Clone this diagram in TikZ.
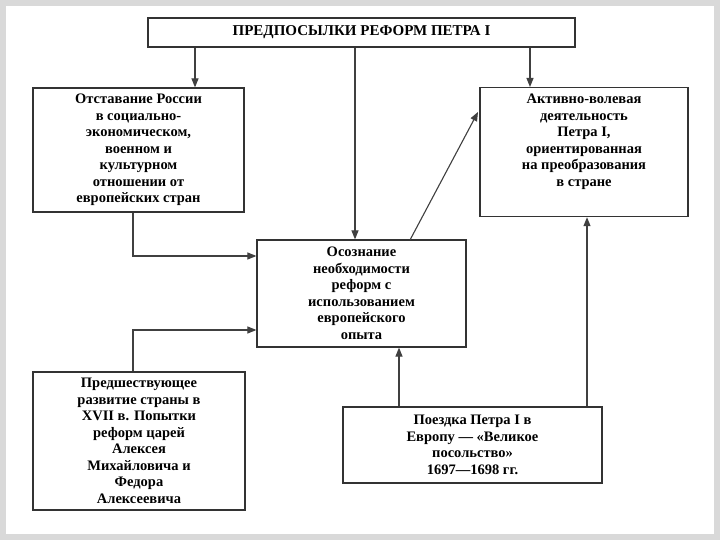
\documentclass[tikz,border=0pt]{standalone}
\usepackage{fontspec}
\setmainfont{Liberation Serif}
\usetikzlibrary{arrows.meta}
\begin{document}
\begin{tikzpicture}[x=1pt,y=-1pt,
 box/.style={draw=black!80,line width=1.2pt,inner sep=0pt,font=\bfseries\fontsize{14.5}{16.5}\selectfont,align=center},
 txt/.style={inner sep=0pt,font=\bfseries\fontsize{14.5}{16.5}\selectfont,align=center},
 arr/.style={draw=black!75,line width=1.1pt,-{Triangle[length=9pt,width=7pt]}}]
\useasboundingbox (0,0) rectangle (720,540);
\fill[white] (0,0) rectangle (720,540);
\draw[black!15,line width=6pt] (3,3) rectangle (717,537);
\node[box,minimum width=427pt,minimum height=29pt,font=\bfseries\fontsize{15}{17}\selectfont] (t) at (361.5,32.5) {ПРЕДПОСЫЛКИ РЕФОРМ ПЕТРА I};
\node[box,minimum width=211pt,minimum height=124pt] (a) at (138.5,150) {Отставание России\\в социально-\\экономическом,\\военном и\\культурном\\отношении от\\европейских стран};
\node[box,minimum width=208pt,minimum height=129pt,anchor=north] (b) at (584,87) {};
\node[txt,anchor=north] (bt) at ([yshift=-7pt]b.north) {Активно-волевая\\деятельность\\Петра I,\\ориентированная\\на преобразования\\в стране};
\node[box,minimum width=209pt,minimum height=107pt] (c) at (361.5,293.5) {Осознание\\необходимости\\реформ с\\использованием\\европейского\\опыта};
\node[box,minimum width=212pt,minimum height=138pt] (d) at (139,441) {Предшествующее\\развитие страны в\\XVII в. Попытки\\реформ царей\\Алексея\\Михайловича и\\Федора\\Алексеевича};
\node[box,minimum width=259pt,minimum height=76pt] (e) at (472.5,445) {Поездка Петра I в\\Европу — «Великое\\посольство»\\1697—1698 гг.};
\draw[arr] (t.south -| 195,0) -- (a.north -| 195,0);
\draw[arr] (t.south -| 355,0) -- (c.north -| 355,0);
\draw[arr] (t.south -| 530,0) -- (b.north -| 530,0);
\coordinate (a1) at (133,256);
\draw[arr] (a.south -| a1) -- (a1) -- (c.west |- a1);
\coordinate (d1) at (133,330);
\draw[arr] (d.north -| d1) -- (d1) -- (c.west |- d1);
\coordinate (c2) at (410,240);
\coordinate (b2) at (478,112);
\draw[arr] (c2) -- (b2);
\draw[arr] (e.north -| 399,0) -- (c.south -| 399,0);
\draw[arr] (e.north -| 587,0) -- (b.south -| 587,0);
\end{tikzpicture}
\end{document}
